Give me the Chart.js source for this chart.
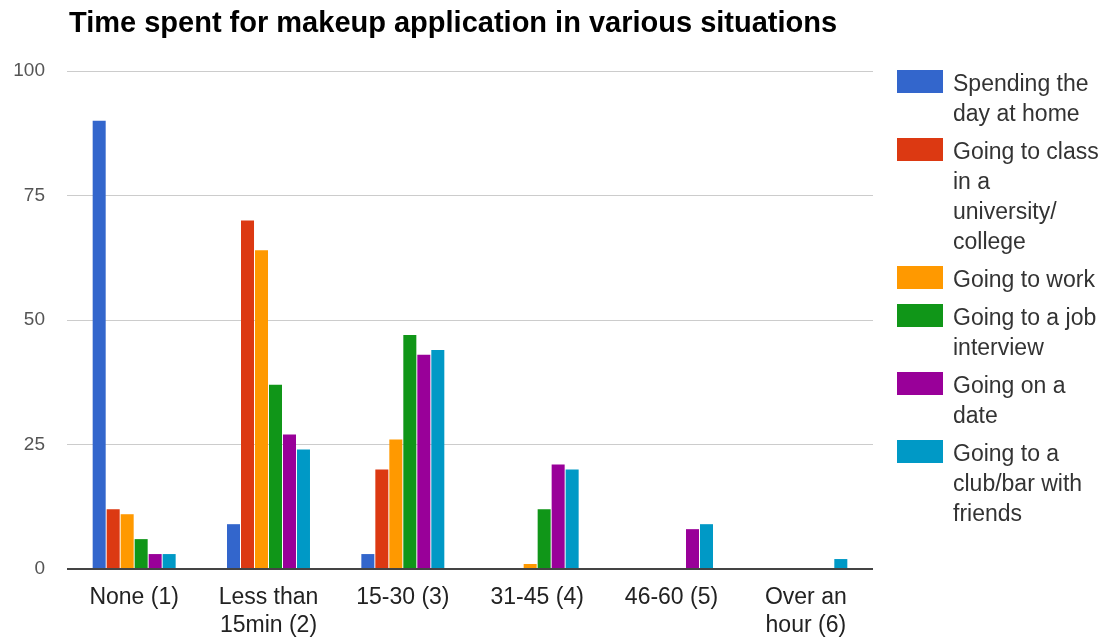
<!DOCTYPE html>
<html>
<head>
<meta charset="utf-8">
<script src="https://cdn.jsdelivr.net/npm/chart.js@4"></script>
<style>
  html, body { margin: 0; padding: 0; background: #fff; }
  body { width: 1109px; height: 641px; position: relative; overflow: hidden; font-family: "Liberation Sans", Arial, sans-serif; }
  #wrap { position: absolute; left: 0; top: 0; width: 1109px; height: 641px; }
  #title { position: absolute; left: 69px; top: 8px; font-size: 29px; line-height: 29px; font-weight: bold; color: #000; white-space: nowrap; }
  #legend { position: absolute; left: 897px; top: 68px; width: 212px; }
  .item { position: relative; margin-bottom: 8px; }
  .sw { position: absolute; left: 0; top: 2px; width: 46px; height: 23px; }
  .txt { margin-left: 56px; font-size: 23px; line-height: 30px; color: #333; white-space: nowrap; }
</style>
</head>
<body>
<div id="wrap"><canvas id="c" width="1109" height="641"></canvas></div>
<div id="title"></div>
<div id="legend"></div>
<script>
const titleText = "Time spent for makeup application in various situations";
const categories = [["None (1)"], ["Less than", "15min (2)"], ["15-30 (3)"], ["31-45 (4)"], ["46-60 (5)"], ["Over an", "hour (6)"]];
const seriesNames = ["Spending the day at home", "Going to class in a university/ college", "Going to work", "Going to a job interview", "Going on a date", "Going to a club/bar with friends"];
const legendLines = [["Spending the", "day at home"], ["Going to class", "in a", "university/", "college"], ["Going to work"], ["Going to a job", "interview"], ["Going on a", "date"], ["Going to a", "club/bar with", "friends"]];
const seriesColors = ["#3366cc", "#dc3912", "#ff9900", "#109618", "#990099", "#0099c6"];
const homeValues      = [90, 9, 3, 0, 0, 0];
const classValues     = [12, 70, 20, 0, 0, 0];
const workValues      = [11, 64, 26, 1, 0, 0];
const interviewValues = [6, 37, 47, 12, 0, 0];
const dateValues      = [3, 27, 43, 21, 8, 0];
const clubValues      = [3, 24, 44, 20, 9, 2];
const yTicks = [0, 25, 50, 75, 100];

const seriesValues = [homeValues, classValues, workValues, interviewValues, dateValues, clubValues];

document.getElementById('title').textContent = titleText;
const legendEl = document.getElementById('legend');
legendLines.forEach((lines, i) => {
  const item = document.createElement('div');
  item.className = 'item';
  const sw = document.createElement('div');
  sw.className = 'sw';
  sw.style.background = seriesColors[i];
  item.appendChild(sw);
  const txt = document.createElement('div');
  txt.className = 'txt';
  txt.title = seriesNames[i];
  lines.forEach((l, j) => {
    if (j) txt.appendChild(document.createElement('br'));
    txt.appendChild(document.createTextNode(l));
  });
  item.appendChild(txt);
  legendEl.appendChild(item);
});

new Chart(document.getElementById('c'), {
  type: 'bar',
  data: {
    labels: categories,
    datasets: seriesNames.map((n, i) => ({
      label: n,
      data: seriesValues[i],
      backgroundColor: seriesColors[i],
      borderWidth: 0,
      categoryPercentage: 0.625,
      barPercentage: 0.93
    }))
  },
  options: {
    responsive: false,
    animation: false,
    events: [],
    layout: { padding: { left: 0, right: 236, top: 71, bottom: 0 } },
    plugins: { legend: { display: false }, title: { display: false }, tooltip: { enabled: false } },
    scales: {
      x: {
        grid: { display: false, drawTicks: false },
        border: { display: false },
        ticks: {
          color: '#222',
          font: { family: '"Liberation Sans", Arial, sans-serif', size: 23, lineHeight: 28 / 23 },
          padding: 15,
          maxRotation: 0,
          autoSkip: false
        },
        afterFit: (s) => { s.height = 72; }
      },
      y: {
        min: 0,
        max: 100,
        afterBuildTicks: (s) => { s.ticks = yTicks.map(v => ({ value: v })); },
        grid: {
          drawTicks: false,
          color: (ctx) => ctx.tick && ctx.tick.value === 0 ? '#444' : '#cccccc',
          lineWidth: (ctx) => ctx.tick && ctx.tick.value === 0 ? 2 : 1
        },
        border: { display: false },
        ticks: {
          color: '#555',
          font: { family: '"Liberation Sans", Arial, sans-serif', size: 19 },
          padding: 22
        },
        afterFit: (s) => { s.width = 67; }
      }
    }
  }
});
</script>
</body>
</html>
